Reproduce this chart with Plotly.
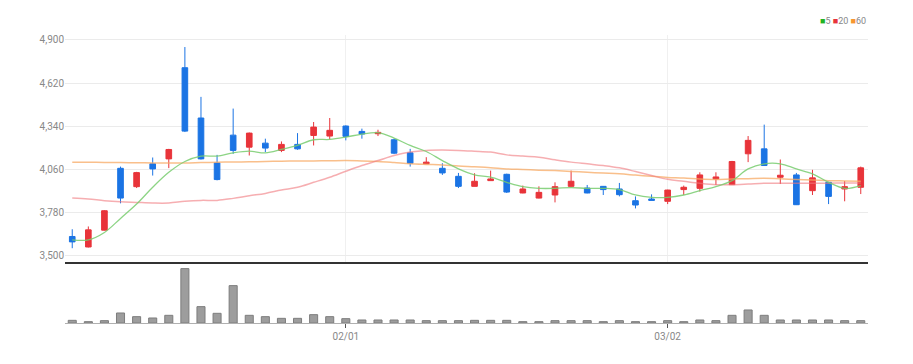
import plotly.graph_objects as go
from plotly.subplots import make_subplots

dates = ["01/05","01/06","01/09","01/10","01/11","01/12","01/13","01/16","01/17","01/18",
         "01/19","01/20","01/25","01/26","01/27","01/30","01/31","02/01","02/02","02/03",
         "02/06","02/07","02/08","02/09","02/10","02/13","02/14","02/15","02/16","02/17",
         "02/20","02/21","02/22","02/23","02/24","02/27","02/28","03/02","03/03","03/06",
         "03/07","03/08","03/09","03/10","03/13","03/14","03/15","03/16","03/17","03/20"]

open_ = [3626,3558,3667,4068,3949,4097,4129,4720,4394,4103,
         4283,4205,4231,4184,4223,4281,4277,4342,4307,4292,
         4253,4168,4097,4068,4016,3951,3988,4029,3908,3875,
         3895,3951,3940,3951,3934,3858,3869,3854,3930,3938,
         3999,3962,4162,4194,4010,4025,3923,3977,3934,3945]
high = [3673,3691,3797,4079,4045,4138,4194,4854,4531,4155,
        4455,4300,4260,4242,4296,4368,4394,4346,4325,4318,
        4260,4194,4140,4101,4038,4036,4053,4033,3956,3951,
        3977,4053,3960,3953,3973,3886,3899,3929,3956,4042,
        4042,4116,4277,4351,4125,4038,4058,3980,3986,4079]
low = [3550,3555,3665,3841,3940,4021,4069,4303,4125,3990,
       4162,4151,4173,4173,4188,4216,4255,4249,4260,4277,
       4160,4079,4097,4025,3940,3951,3988,3908,3906,3873,
       3847,3949,3906,3895,3886,3808,3860,3836,3895,3917,
       3960,3960,4108,4084,3966,3830,3895,3836,3854,3901]
close = [3591,3669,3793,3875,4040,4064,4190,4309,4129,3995,
         4184,4296,4199,4223,4194,4335,4314,4275,4290,4301,
         4166,4101,4108,4038,3951,3984,3999,3914,3934,3912,
         3949,3984,3908,3930,3897,3830,3860,3927,3945,4025,
         4012,4112,4249,4086,4023,3832,4006,3886,3949,4071]

ma5 = [3604,3604,3652,3743,3836,3945,4042,4112,4147,4147,
       4168,4179,4168,4190,4216,4253,4255,4270,4290,4299,
       4264,4216,4177,4118,4064,4025,4010,3977,3949,3938,
       3938,3943,3938,3938,3930,3895,3880,3880,3895,3923,
       3949,3988,4064,4097,4097,4064,4032,3977,3938,3956]
ma20 = [3875,3869,3858,3851,3847,3843,3843,3854,3860,3860,
        3873,3890,3905,3927,3945,3977,4010,4049,4086,4118,
        4151,4173,4184,4186,4184,4179,4173,4155,4147,4140,
        4123,4108,4097,4086,4071,4047,4021,3997,3984,3971,
        3962,3962,3966,3971,3971,3971,3971,3971,3973,3973]
ma60 = [4108,4107,4106,4105,4104,4103,4103,4103,4105,4107,
        4109,4110,4112,4114,4115,4116,4117,4118,4116,4112,
        4105,4097,4093,4090,4083,4078,4072,4064,4060,4056,
        4053,4048,4042,4037,4032,4024,4016,4009,4005,3998,
        3995,3999,4001,4003,4000,3995,3992,3988,3986,3984]

volume = [8000,4000,7000,30000,19000,15000,23000,163000,49000,29000,
          112000,23000,19000,14000,14000,25000,19000,13000,9000,9000,
          9000,9000,7000,7000,7000,8000,8000,8000,4000,4000,
          7000,7000,7000,4000,7000,4000,4000,7000,4000,9000,
          7000,23000,39000,23000,9000,9000,9000,9000,7000,7000]

price_ticks = [3500, 3780, 4060, 4340, 4620, 4900]
date_ticks = ["02/01", "03/02"]

RED = "#e8343a"
BLUE = "#1b74e4"
FONT = "Liberation Sans Narrow, Arial Narrow, Roboto, sans-serif"

fig = make_subplots(rows=2, cols=1, shared_xaxes=True, vertical_spacing=0,
                    row_heights=[0.788, 0.212])

fig.add_trace(go.Scatter(x=dates, y=ma60, mode="lines", line=dict(color="rgba(247,170,100,0.75)", width=1.5, shape="spline"), hoverinfo="skip"), row=1, col=1)
fig.add_trace(go.Scatter(x=dates, y=ma20, mode="lines", line=dict(color="rgba(240,120,125,0.6)", width=1.5, shape="spline"), hoverinfo="skip"), row=1, col=1)
fig.add_trace(go.Scatter(x=dates, y=ma5, mode="lines", line=dict(color="rgba(120,205,110,0.85)", width=1.3, shape="spline"), hoverinfo="skip"), row=1, col=1)

fig.add_trace(go.Candlestick(
    x=dates, open=open_, high=high, low=low, close=close,
    increasing=dict(line=dict(color=RED, width=1), fillcolor=RED),
    decreasing=dict(line=dict(color=BLUE, width=1), fillcolor=BLUE),
    whiskerwidth=0,
), row=1, col=1)

fig.add_trace(go.Bar(x=dates, y=volume, width=0.5,
                     marker=dict(color="#9d9d9d", line=dict(color="#7d7d7d", width=1))),
              row=2, col=1)

# the page body has an 8px default margin, so margins compensate for it
fig.update_layout(
    width=913, height=364,
    margin=dict(l=57, r=53, t=27, b=49, autoexpand=False),
    paper_bgcolor="white", plot_bgcolor="white",
    showlegend=False, boxgap=0.5,
    font=dict(family=FONT, size=10, color="#888"),
)

fig.update_xaxes(type="category", categoryorder="array", categoryarray=dates,
                 range=[-0.45, 49.45], rangeslider_visible=False, automargin=False)
fig.update_xaxes(row=1, col=1, tickvals=date_ticks, showticklabels=False,
                 showgrid=True, gridcolor="#f0f0f0", gridwidth=1,
                 showline=True, linecolor="#333", linewidth=2, ticks="")
fig.update_xaxes(row=2, col=1, tickvals=date_ticks, ticktext=date_ticks,
                 showgrid=False, showline=True, linecolor="#b0b0b0", linewidth=1,
                 ticks="outside", ticklen=4, tickcolor="#555",
                 tickfont=dict(family=FONT, size=10, color="#888"))
fig.update_yaxes(row=1, col=1, range=[3461, 4932], tickvals=price_ticks,
                 tickformat=",", showgrid=True, gridcolor="#ebebeb", zeroline=False,
                 ticks="", automargin=False, tickfont=dict(family=FONT, size=10, color="#888"))
fig.update_yaxes(row=2, col=1, range=[0, 183000], showticklabels=False,
                 showgrid=False, zeroline=False, automargin=False)

fig.add_annotation(xref="paper", yref="paper", x=1, y=1, yshift=14,
                   xanchor="right", yanchor="middle", showarrow=False,
                   text='<span style="color:#22b322">■</span>5 '
                        '<span style="color:#e8343a">■</span>20 '
                        '<span style="color:#f7962f">■</span>60',
                   font=dict(family=FONT, size=9, color="#888"))

fig.write_html("out.html")
